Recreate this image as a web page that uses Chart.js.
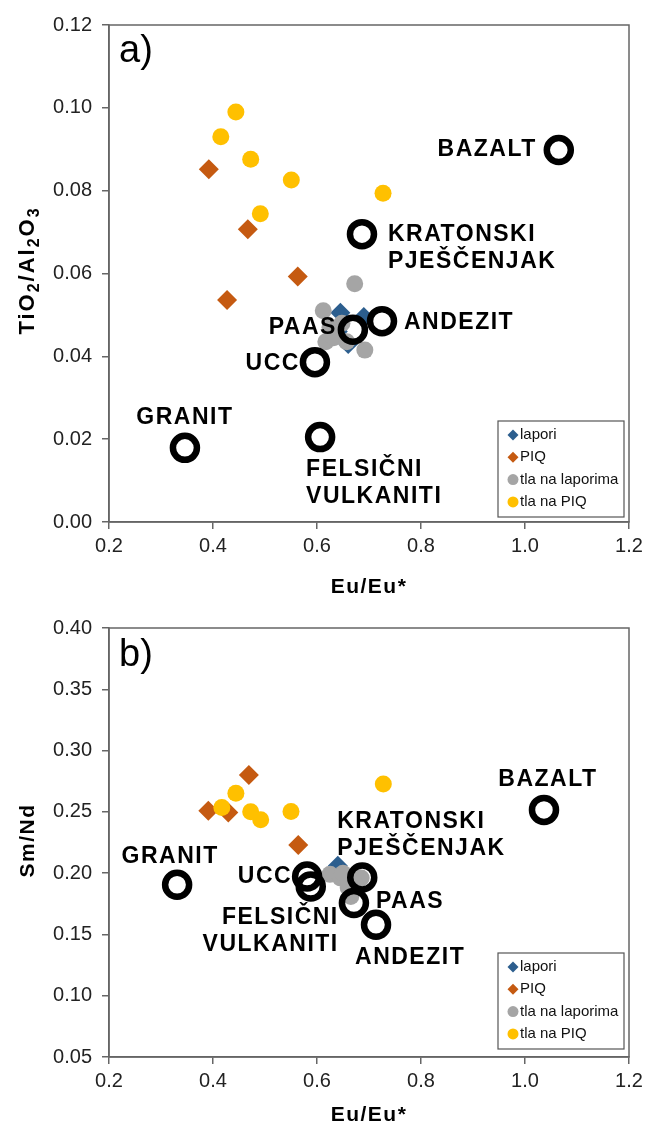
<!DOCTYPE html>
<html>
<head>
<meta charset="utf-8">
<script src="https://cdn.jsdelivr.net/npm/chart.js@4/dist/chart.umd.min.js"></script>
<style>
  html, body { margin: 0; padding: 0; background: #fff; }
  #wrap { position: relative; width: 650px; height: 1131px; }
  canvas { position: absolute; left: 0; }
</style>
</head>
<body>
<div id="wrap">
  <canvas id="chartA" width="650" height="600" style="top:0"></canvas>
  <canvas id="chartB" width="650" height="531" style="top:600px"></canvas>
</div>
<script>
// ---- Panel a) TiO2/Al2O3 vs Eu/Eu* ----
const laporiA_x = [0.645, 0.690, 0.660, 0.640];
const laporiA_y = [0.0505, 0.0495, 0.0430, 0.0460];
const piqA_x = [0.392, 0.467, 0.563, 0.427];
const piqA_y = [0.0852, 0.0707, 0.0593, 0.0536];
const tlaLapA_x = [0.6725, 0.612, 0.617, 0.632, 0.657, 0.692, 0.648, 0.625];
const tlaLapA_y = [0.0575, 0.0510, 0.0435, 0.0445, 0.0435, 0.0415, 0.0480, 0.0470];
const tlaPiqA_x = [0.444, 0.415, 0.4725, 0.5506, 0.727, 0.491];
const tlaPiqA_y = [0.0990, 0.0930, 0.0876, 0.0826, 0.0794, 0.0744];

// ---- Panel b) Sm/Nd vs Eu/Eu* ----
const laporiB_x = [0.640, 0.655, 0.665, 0.635];
const laporiB_y = [0.206, 0.197, 0.190, 0.200];
const piqB_x = [0.469, 0.391, 0.4295, 0.564];
const piqB_y = [0.280, 0.251, 0.2494, 0.223];
const tlaLapB_x = [0.625, 0.645, 0.660, 0.665, 0.685, 0.675, 0.650];
const tlaLapB_y = [0.199, 0.196, 0.188, 0.181, 0.196, 0.190, 0.200];
const tlaPiqB_x = [0.444, 0.417, 0.4725, 0.4917, 0.550, 0.7275];
const tlaPiqB_y = [0.2652, 0.2535, 0.2500, 0.2435, 0.2503, 0.2728];

// ---- Reference compositions ----
const refNames = ['BAZALT', 'KRATONSKI\nPJEŠČENJAK', 'ANDEZIT', 'PAAS', 'UCC', 'GRANIT', 'FELSIČNI\nVULKANITI'];
const refA_x = [1.065, 0.6865, 0.725, 0.669, 0.596, 0.346, 0.606];
const refA_y = [0.0898, 0.0695, 0.0485, 0.0464, 0.0386, 0.0179, 0.0205];
const refB_x = [1.0365, 0.687, 0.7135, 0.671, 0.581, 0.331, 0.588];
const refB_y = [0.2516, 0.1965, 0.1579, 0.1756, 0.1973, 0.1905, 0.1891];

const seriesNames = ['lapori', 'PIQ', 'tla na laporima', 'tla na PIQ'];

// Axis ranges / ticks
const xTicks = { min: 0.2, max: 1.2, step: 0.2 };
const yTicksA = { min: 0.0, max: 0.12, step: 0.02 };
const yTicksB = { min: 0.05, max: 0.40, step: 0.05 };

// Label placement around reference rings (pixels, relative to the ring centre)
const refLabelLayoutA = [
  { dx: -22, dy: 0, align: 'right' },
  { dx: 26, dy: 1, align: 'left' },
  { dx: 22, dy: 2, align: 'left' },
  { dx: -16, dy: -2, align: 'right' },
  { dx: -15, dy: 2, align: 'right' },
  { dx: 0, dy: -30, align: 'center' },
  { dx: -14, dy: 33, align: 'left' }
];
const refLabelLayoutB = [
  { dx: 4, dy: -30, align: 'center' },
  { dx: -25, dy: -56, align: 'left' },
  { dx: -21, dy: 33, align: 'left' },
  { dx: 22, dy: -1, align: 'left' },
  { dx: -15, dy: 0, align: 'right' },
  { dx: -7, dy: -28, align: 'center' },
  { dx: 28, dy: 31, align: 'right' }
];

const COL = { lapori: '#2C5E8E', piq: '#C55A11', grey: '#A5A5A5', yellow: '#FFC000', ring: '#000000', axis: '#666666' };
const FONT = '"Liberation Sans", Arial, sans-serif';

const zip = (xs, ys) => xs.map((x, i) => ({ x, y: ys[i] }));

function makeDatasets(lx, ly, px, py, gx, gy, yx, yy, rx, ry) {
  return [
    { label: 'ref', data: zip(rx, ry), pointStyle: 'circle', pointRadius: 12, borderWidth: 6.5,
      borderColor: COL.ring, backgroundColor: 'rgba(0,0,0,0)', order: 0 },
    { label: seriesNames[3], data: zip(yx, yy), pointStyle: 'circle', pointRadius: 8.5, borderWidth: 0,
      backgroundColor: COL.yellow, borderColor: COL.yellow, order: 1 },
    { label: seriesNames[2], data: zip(gx, gy), pointStyle: 'circle', pointRadius: 8.5, borderWidth: 0,
      backgroundColor: COL.grey, borderColor: COL.grey, order: 2 },
    { label: seriesNames[1], data: zip(px, py), pointStyle: 'rectRot', pointRadius: 10, borderWidth: 0,
      backgroundColor: COL.piq, borderColor: COL.piq, order: 3 },
    { label: seriesNames[0], data: zip(lx, ly), pointStyle: 'rectRot', pointRadius: 10, borderWidth: 0,
      backgroundColor: COL.lapori, borderColor: COL.lapori, order: 4 }
  ];
}

// Frame around the plot area, legend box, reference labels, titles
const decorPlugin = {
  id: 'decor',
  afterDraw(chart, args, opts) {
    const ctx = chart.ctx;
    const a = chart.chartArea;
    const xs = chart.scales.x, ys = chart.scales.y;
    ctx.save();
    // frame
    ctx.strokeStyle = COL.axis;
    ctx.lineWidth = 1.5;
    ctx.strokeRect(a.left, a.top, a.right - a.left, a.bottom - a.top);

    // reference labels
    ctx.fillStyle = '#000';
    ctx.font = 'bold 23px ' + FONT;
    ctx.letterSpacing = '1.5px';
    ctx.textBaseline = 'middle';
    opts.refX.forEach((vx, i) => {
      const px = xs.getPixelForValue(vx);
      const py = ys.getPixelForValue(opts.refY[i]);
      const lay = opts.layout[i];
      ctx.textAlign = lay.align;
      refNames[i].split('\n').forEach((line, k) => {
        ctx.fillText(line, px + lay.dx, py + lay.dy + k * 27);
      });
    });
    ctx.letterSpacing = '0px';

    // panel letter
    ctx.font = '38px ' + FONT;
    ctx.textAlign = 'left';
    ctx.textBaseline = 'alphabetic';
    ctx.fillText(opts.panel, a.left + 10, a.top + opts.panelBase);

    // legend
    const lx0 = a.right - 131, lx1 = a.right - 5;
    const ly1 = a.bottom - opts.legendBottom, ly0 = ly1 - 96;
    ctx.fillStyle = '#fff';
    ctx.fillRect(lx0, ly0, lx1 - lx0, ly1 - ly0);
    ctx.strokeStyle = '#555';
    ctx.lineWidth = 1.2;
    ctx.strokeRect(lx0, ly0, lx1 - lx0, ly1 - ly0);
    const items = [
      { t: seriesNames[0], c: COL.lapori, s: 'd' },
      { t: seriesNames[1], c: COL.piq, s: 'd' },
      { t: seriesNames[2], c: COL.grey, s: 'c' },
      { t: seriesNames[3], c: COL.yellow, s: 'c' }
    ];
    ctx.font = '15px ' + FONT;
    ctx.textBaseline = 'middle';
    items.forEach((it, k) => {
      const cy = ly0 + 14 + k * 22.3;
      const cx = lx0 + 15;
      ctx.fillStyle = it.c;
      ctx.beginPath();
      if (it.s === 'd') {
        ctx.moveTo(cx, cy - 5.5); ctx.lineTo(cx + 5.5, cy); ctx.lineTo(cx, cy + 5.5); ctx.lineTo(cx - 5.5, cy);
        ctx.closePath();
      } else {
        ctx.arc(cx, cy, 5.5, 0, Math.PI * 2);
      }
      ctx.fill();
      ctx.fillStyle = '#111';
      ctx.fillText(it.t, cx + 7, cy);
    });

    // x-axis title
    ctx.fillStyle = '#000';
    ctx.font = 'bold 21px ' + FONT;
    ctx.letterSpacing = '1.5px';
    ctx.textAlign = 'center';
    ctx.textBaseline = 'middle';
    ctx.fillText('Eu/Eu*', (a.left + a.right) / 2, a.bottom + opts.xTitleOff);

    // y-axis title (rotated, with optional subscripts)
    ctx.translate(28, (a.top + a.bottom) / 2 + opts.yTitleShift);
    ctx.rotate(-Math.PI / 2);
    ctx.letterSpacing = opts.yTitleSpacing;
    const big = 'bold ' + opts.yTitleSize + 'px ' + FONT, small = 'bold 16px ' + FONT;
    let total = 0;
    opts.yTitle.forEach(p => { ctx.font = p.sub ? small : big; total += ctx.measureText(p.t).width; });
    let cx = -total / 2;
    ctx.textAlign = 'left';
    opts.yTitle.forEach(p => {
      ctx.font = p.sub ? small : big;
      ctx.fillText(p.t, cx, p.sub ? 7 : 0);
      cx += ctx.measureText(p.t).width;
    });
    ctx.restore();
  }
};

function makeChart(id, datasets, yT, yDec, plotTop, plotBottom, canvasH, decorOpts) {
  return new Chart(document.getElementById(id), {
    type: 'scatter',
    data: { datasets },
    options: {
      responsive: false,
      devicePixelRatio: 1,
      animation: false,
      layout: { padding: { top: plotTop, right: 21, left: 0, bottom: 0 } },
      plugins: { legend: { display: false }, tooltip: { enabled: false }, decor: decorOpts },
      scales: {
        x: {
          type: 'linear', min: xTicks.min, max: xTicks.max,
          ticks: { stepSize: xTicks.step, color: '#222', font: { size: 20, family: FONT }, padding: 5,
                   callback: v => v.toFixed(1) },
          grid: { drawOnChartArea: false, drawTicks: true, tickLength: 7, color: COL.axis, tickColor: COL.axis, lineWidth: 1.5 },
          border: { display: true, color: COL.axis, width: 1.5 },
          afterFit: s => { s.height = canvasH - plotBottom; }
        },
        y: {
          type: 'linear', min: yT.min, max: yT.max,
          ticks: { stepSize: yT.step, color: '#222', font: { size: 20, family: FONT }, padding: 10,
                   callback: v => v.toFixed(yDec) },
          grid: { drawOnChartArea: false, drawTicks: true, tickLength: 7, color: COL.axis, tickColor: COL.axis, lineWidth: 1.5 },
          border: { display: true, color: COL.axis, width: 1.5 },
          afterFit: s => { s.width = 109; }
        }
      }
    },
    plugins: [decorPlugin]
  });
}

makeChart('chartA',
  makeDatasets(laporiA_x, laporiA_y, piqA_x, piqA_y, tlaLapA_x, tlaLapA_y, tlaPiqA_x, tlaPiqA_y, refA_x, refA_y),
  yTicksA, 2, 25, 522, 600,
  { refX: refA_x, refY: refA_y, layout: refLabelLayoutA, panel: 'a)', panelBase: 37, legendBottom: 5,
    xTitleOff: 65, yTitleShift: -3, yTitleSize: 22, yTitleSpacing: '2px',
    yTitle: [{ t: 'TiO' }, { t: '2', sub: true }, { t: '/Al' }, { t: '2', sub: true }, { t: 'O' }, { t: '3', sub: true }] });

makeChart('chartB',
  makeDatasets(laporiB_x, laporiB_y, piqB_x, piqB_y, tlaLapB_x, tlaLapB_y, tlaPiqB_x, tlaPiqB_y, refB_x, refB_y),
  yTicksB, 2, 28, 457, 531,
  { refX: refB_x, refY: refB_y, layout: refLabelLayoutB, panel: 'b)', panelBase: 38, legendBottom: 8,
    xTitleOff: 58, yTitleShift: -2, yTitleSize: 21, yTitleSpacing: '1.5px',
    yTitle: [{ t: 'Sm/Nd' }] });
</script>
</body>
</html>
